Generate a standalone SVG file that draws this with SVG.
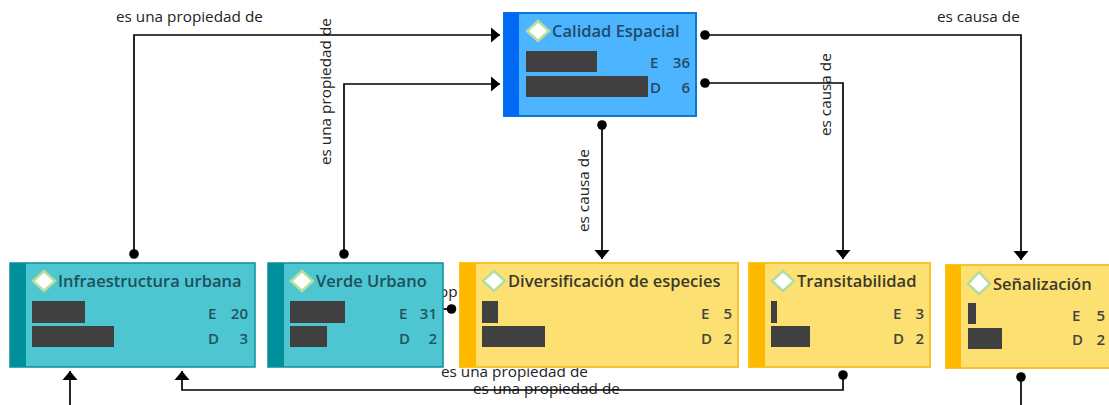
<svg xmlns="http://www.w3.org/2000/svg" width="1109" height="405" viewBox="0 0 1109 405">
<style>
text{font-family:"Open Sans","Noto Sans","Liberation Sans",sans-serif}
.lb{font-size:15.3px;fill:#222}
.t{font-size:16.5px;font-weight:600;fill:#3a3a2a}
.tb{fill:#1f4a68}.tt{fill:#1f4f5a}
.v{font-size:15px;font-weight:600;fill:#444}
.vb{fill:#254a66}.vt{fill:#1f5560}
.b{fill:#404040}
.d{fill:#fff;stroke:#b5dd9e;stroke-width:2.5}
.blue{fill:#4db5ff;stroke:#0a78d8;stroke-width:2}
.ba{fill:#0069f5}
.teal{fill:#4dc6d2;stroke:#0f8f9a;stroke-width:1.5}
.ta{fill:#00909c}
.yel{fill:#fde072;stroke:#f8c32e;stroke-width:2}
.ya{fill:#ffba00}
.c{fill:none;stroke:#000;stroke-width:1.7}
</style>
<defs>
<marker id="ah" markerWidth="12" markerHeight="16" refX="10" refY="8" orient="auto" markerUnits="userSpaceOnUse"><path d="M1 0.5L10 8L1 15.5Z" fill="#000"/></marker>
<marker id="dot" markerWidth="12" markerHeight="12" refX="6" refY="6" orient="auto" markerUnits="userSpaceOnUse"><circle cx="6" cy="6" r="4.8" fill="#000"/></marker>
</defs>
<g id="labels-back">
<text class="lb" x="439" y="297">op</text>
<text class="lb" x="441" y="377">es una propiedad de</text>
<text class="lb" x="473" y="394">es una propiedad de</text>
<text class="lb" x="116" y="22">es una propiedad de</text>
<text class="lb" x="937" y="22">es causa de</text>
<text class="lb" transform="translate(331,165) rotate(-90)">es una propiedad de</text>
<text class="lb" transform="translate(831,136) rotate(-90)">es causa de</text>
<text class="lb" transform="translate(589,232) rotate(-90)">es causa de</text>
</g>
<g id="connectors">
<path class="c" marker-start="url(#dot)" marker-end="url(#ah)" d="M134 254V35H500"/>
<path class="c" marker-start="url(#dot)" marker-end="url(#ah)" d="M344 254V84H500"/>
<path class="c" marker-start="url(#dot)" marker-end="url(#ah)" d="M705 35H1021V260"/>
<path class="c" marker-start="url(#dot)" marker-end="url(#ah)" d="M705 83H843V259"/>
<path class="c" marker-start="url(#dot)" marker-end="url(#ah)" d="M602 125V259"/>
<path class="c" marker-end="url(#ah)" d="M70 405V371"/>
<path class="c" marker-start="url(#dot)" marker-end="url(#ah)" d="M843 375V390H182V371"/>
<path class="c" marker-start="url(#dot)" d="M1021 377V405"/>
<path class="c" marker-end="url(#dot)" d="M443 309H451.5"/>
</g>
<g id="calidad-espacial">
<rect class="blue" x="504" y="13" width="192" height="103"/><rect class="ba" x="504" y="13" width="15" height="103"/>
<path class="d" d="M538 21L549 31L538 41L527 31Z"/>
<text class="t tb" x="552" y="37">Calidad Espacial</text>
<rect class="b" x="526" y="51" width="71" height="21"/><rect class="b" x="526" y="76" width="122" height="21"/>
<text class="v vb" x="650" y="68">E</text><text class="v vb" x="690" y="68" text-anchor="end">36</text>
<text class="v vb" x="650" y="93">D</text><text class="v vb" x="690" y="93" text-anchor="end">6</text>
</g>
<g id="infraestructura-urbana">
<rect class="teal" x="10" y="263" width="245" height="104"/><rect class="ta" x="10" y="263" width="16" height="104"/>
<path class="d" d="M44 271L55 281L44 291L33 281Z"/>
<text class="t tt" x="58" y="287">Infraestructura urbana</text>
<rect class="b" x="32" y="301" width="53" height="22"/><rect class="b" x="32" y="326" width="82" height="21"/>
<text class="v vt" x="208" y="319">E</text><text class="v vt" x="248" y="319" text-anchor="end">20</text>
<text class="v vt" x="208" y="344">D</text><text class="v vt" x="248" y="344" text-anchor="end">3</text>
</g>
<g id="verde-urbano">
<rect class="teal" x="268" y="263" width="175" height="104"/><rect class="ta" x="268" y="263" width="16" height="104"/>
<path class="d" d="M302 271L313 281L302 291L291 281Z"/>
<text class="t tt" x="316" y="287">Verde Urbano</text>
<rect class="b" x="290" y="301" width="55" height="22"/><rect class="b" x="290" y="326" width="37" height="21"/>
<text class="v vt" x="399" y="319">E</text><text class="v vt" x="437" y="319" text-anchor="end">31</text>
<text class="v vt" x="399" y="344">D</text><text class="v vt" x="437" y="344" text-anchor="end">2</text>
</g>
<g id="diversificacion-de-especies">
<rect class="yel" x="460" y="263" width="278" height="104"/><rect class="ya" x="460" y="263" width="16" height="104"/>
<path class="d" d="M494 271L505 281L494 291L483 281Z"/>
<text class="t" x="508" y="287">Diversificación de especies</text>
<rect class="b" x="482" y="301" width="16" height="22"/><rect class="b" x="482" y="326" width="63" height="21"/>
<text class="v" x="701" y="319">E</text><text class="v" x="732" y="319" text-anchor="end">5</text>
<text class="v" x="701" y="344">D</text><text class="v" x="732" y="344" text-anchor="end">2</text>
</g>
<g id="transitabilidad">
<rect class="yel" x="749" y="263" width="181" height="104"/><rect class="ya" x="749" y="263" width="16" height="104"/>
<path class="d" d="M783 271L794 281L783 291L772 281Z"/>
<text class="t" x="797" y="287">Transitabilidad</text>
<rect class="b" x="771" y="301" width="6" height="22"/><rect class="b" x="771" y="326" width="39" height="21"/>
<text class="v" x="893" y="319">E</text><text class="v" x="924" y="319" text-anchor="end">3</text>
<text class="v" x="893" y="344">D</text><text class="v" x="924" y="344" text-anchor="end">2</text>
</g>
<g id="senalizacion">
<rect class="yel" x="946" y="265" width="170" height="103"/><rect class="ya" x="946" y="265" width="15" height="103"/>
<path class="d" d="M979 272L990 284L979 294L968 284Z"/>
<text class="t" x="993" y="290">Señalización</text>
<rect class="b" x="968" y="303" width="8" height="21"/><rect class="b" x="968" y="328" width="34" height="21"/>
<text class="v" x="1072" y="321">E</text><text class="v" x="1105" y="321" text-anchor="end">5</text>
<text class="v" x="1072" y="345">D</text><text class="v" x="1105" y="345" text-anchor="end">2</text>
</g>
</svg>
